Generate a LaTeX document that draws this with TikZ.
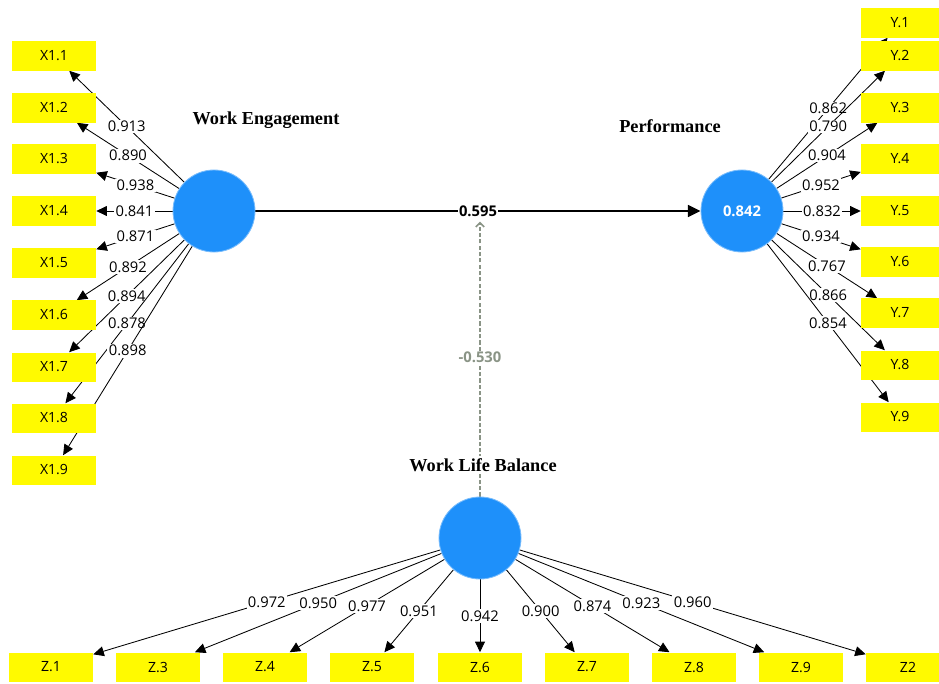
\documentclass[tikz,border=0pt]{standalone}
\usepackage{fontspec}
\setmainfont{Liberation Serif}
\setsansfont{Open Sans}
\usepackage{tikz}
\usetikzlibrary{arrows.meta, backgrounds}
\definecolor{lvblue}{RGB}{30,144,250}
\definecolor{indyellow}{RGB}{255,250,0}
\definecolor{modgray}{RGB}{138,148,134}

\begin{document}
\begin{tikzpicture}[
  x=0.025cm, y=-0.025cm,
  font=\sffamily\fontsize{10}{12}\selectfont,
  lv/.style={circle, fill=lvblue, draw=lvblue!60!white, line width=0.6pt, minimum size=2.05cm, inner sep=0pt},
  ind/.style={rectangle, fill=indyellow, minimum width=2.1cm, minimum height=0.725cm, inner sep=0pt},
  ttl/.style={font=\rmfamily\bfseries\fontsize{13}{15}\selectfont, inner sep=2pt},
  ld/.style={-{Triangle[length=7.5pt,width=7pt]}, line width=0.6pt, black},
  wt/.style={fill=white, inner sep=1pt, font=\sffamily\fontsize{10.5}{12}\selectfont},
  wtb/.style={wt, font=\sffamily\bfseries\fontsize{10.5}{12}\selectfont},
  path/.style={-{Triangle[length=9pt,width=8.5pt]}, line width=1.3pt, black},
  mod/.style={-{Straight Barb[length=3pt,width=6pt]}, modgray, line width=1.2pt, dash pattern=on 3pt off 1.5pt, shorten >=2pt}
]
  \useasboundingbox (0,0) rectangle (939,683);
  \clip (0,0) rectangle (939,683);
  % latent variables
  \node[lv] (we) at (214,211) {};
  \node[lv, text=white, font=\sffamily\bfseries\fontsize{10.5}{12}\selectfont] (perf) at (742,211) {0.842};
  \node[lv] (wlb) at (480,538) {};
  \node[ttl] (wet) at (266,120) {Work Engagement};
  \node[ttl] (pft) at (670,126) {Performance};
  \node[ttl, fill=white] (wlt) at (483,465) {Work Life Balance};
  % indicators of Work Engagement
  \node[ind] (x11) at (54,56) {X1.1};
  \node[ind] (x12) at (54,108) {X1.2};
  \node[ind] (x13) at (54,159) {X1.3};
  \node[ind] (x14) at (54,211) {X1.4};
  \node[ind] (x15) at (54,263) {X1.5};
  \node[ind] (x16) at (54,315) {X1.6};
  \node[ind] (x17) at (54,367) {X1.7};
  \node[ind] (x18) at (54,418) {X1.8};
  \node[ind] (x19) at (54,470) {X1.9};
  % indicators of Performance
  \node[ind, minimum width=1.95cm] (y1) at (900,23) {Y.1};
  \node[ind, minimum width=1.95cm] (y2) at (900,56) {Y.2};
  \node[ind, minimum width=1.95cm] (y3) at (900,108) {Y.3};
  \node[ind, minimum width=1.95cm] (y4) at (900,159) {Y.4};
  \node[ind, minimum width=1.95cm] (y5) at (900,211) {Y.5};
  \node[ind, minimum width=1.95cm] (y6) at (900,262) {Y.6};
  \node[ind, minimum width=1.95cm] (y7) at (900,313) {Y.7};
  \node[ind, minimum width=1.95cm] (y8) at (900,365) {Y.8};
  \node[ind, minimum width=1.95cm] (y9) at (900,417) {Y.9};
  % indicators of Work Life Balance
  \node[ind] (z1) at (51,667) {Z.1};
  \node[ind] (z3) at (158,667) {Z.3};
  \node[ind] (z4) at (265,667) {Z.4};
  \node[ind] (z5) at (372,667) {Z.5};
  \node[ind] (z6) at (480,667) {Z.6};
  \node[ind] (z7) at (587,667) {Z.7};
  \node[ind] (z8) at (694,667) {Z.8};
  \node[ind] (z9) at (801,667) {Z.9};
  \node[ind] (z2) at (908,667) {Z2};
  \begin{scope}[on background layer]
    % loadings
    \draw[ld] (we) -- node[wt] {0.913} (x11); \draw[ld] (we) -- node[wt] {0.890} (x12); \draw[ld] (we) -- node[wt] {0.938} (x13);
    \draw[ld] (we) -- node[wt] {0.841} (x14); \draw[ld] (we) -- node[wt] {0.871} (x15); \draw[ld] (we) -- node[wt] {0.892} (x16);
    \draw[ld] (we) -- node[wt] {0.894} (x17); \draw[ld] (we) -- node[wt] {0.878} (x18); \draw[ld] (we) -- node[wt] {0.898} (x19);
    \draw[ld] (perf) -- node[wt] {0.862} (y1); \draw[ld] (perf) -- node[wt] {0.790} (y2); \draw[ld] (perf) -- node[wt] {0.904} (y3);
    \draw[ld] (perf) -- node[wt] {0.952} (y4); \draw[ld] (perf) -- node[wt] {0.832} (y5); \draw[ld] (perf) -- node[wt] {0.934} (y6);
    \draw[ld] (perf) -- node[wt] {0.767} (y7); \draw[ld] (perf) -- node[wt] {0.866} (y8); \draw[ld] (perf) -- node[wt] {0.854} (y9);
    \draw[ld] (wlb) -- node[wt] {0.972} (z1); \draw[ld] (wlb) -- node[wt] {0.950} (z3); \draw[ld] (wlb) -- node[wt] {0.977} (z4);
    \draw[ld] (wlb) -- node[wt] {0.951} (z5); \draw[ld] (wlb) -- node[wt] {0.942} (z6); \draw[ld] (wlb) -- node[wt] {0.900} (z7);
    \draw[ld] (wlb) -- node[wt] {0.874} (z8); \draw[ld] (wlb) -- node[wt] {0.923} (z9); \draw[ld] (wlb) -- node[wt] {0.960} (z2);
    % structural path and moderation
    \draw[path] (we) -- node[wtb] (beta) {0.595} (perf);
    \draw[mod] (wlb) -- node[wtb, text=modgray] {-0.530} (wlb |- beta.south);
  \end{scope}
\end{tikzpicture}
\end{document}
